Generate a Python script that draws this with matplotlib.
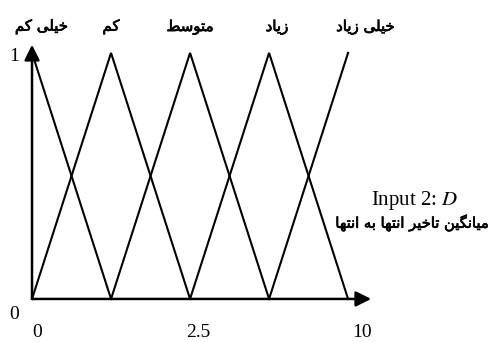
# Triangular membership functions for input 2 (D)
import matplotlib
matplotlib.use('Agg')
import matplotlib.pyplot as plt
import matplotlib.patheffects as pe

# Membership function peaks and labels (left to right)
mf_names = ['خیلی کم', 'کم', 'متوسط', 'زیاد', 'خیلی زیاد']
mf_peaks = [0, 2.5, 5, 7.5, 10]
mf_half_width = 2.5

# Axis tick labels as printed on the figure
xtick_pos = [0, 5, 10]
xtick_labels = ['0', '2.5', '10']
ytick_labels = ['0', '1']

input_title = 'Input 2: $D$'
input_desc = 'میانگین تاخیر انتها به انتها'

# Arabic presentation forms: iso, final, initial, medial
forms = {
    'ا': ('\uFE8D', '\uFE8E'),
    'د': ('\uFEA9', '\uFEAA'),
    'ر': ('\uFEAD', '\uFEAE'),
    'ز': ('\uFEAF', '\uFEB0'),
    'و': ('\uFEED', '\uFEEE'),
    'ب': ('\uFE8F', '\uFE90', '\uFE91', '\uFE92'),
    'ت': ('\uFE95', '\uFE96', '\uFE97', '\uFE98'),
    'خ': ('\uFEA5', '\uFEA6', '\uFEA7', '\uFEA8'),
    'س': ('\uFEB1', '\uFEB2', '\uFEB3', '\uFEB4'),
    'ط': ('\uFEC1', '\uFEC2', '\uFEC3', '\uFEC4'),
    'ل': ('\uFEDD', '\uFEDE', '\uFEDF', '\uFEE0'),
    'م': ('\uFEE1', '\uFEE2', '\uFEE3', '\uFEE4'),
    'ن': ('\uFEE5', '\uFEE6', '\uFEE7', '\uFEE8'),
    'ه': ('\uFEE9', '\uFEEA', '\uFEEB', '\uFEEC'),
    'ی': ('\uFBFC', '\uFBFD', '\uFBFE', '\uFBFF'),
    'ک': ('\uFB8E', '\uFB8F', '\uFB90', '\uFB91'),
    'گ': ('\uFB92', '\uFB93', '\uFB94', '\uFB95'),
}


def shape(text):
    # join letters and put them in visual (left to right) order
    out = []
    for i, ch in enumerate(text):
        if ch not in forms:
            out.append(ch)
            continue
        prev = text[i - 1] if i > 0 else ' '
        nxt = text[i + 1] if i + 1 < len(text) else ' '
        join_prev = prev in forms and len(forms[prev]) == 4
        join_next = len(forms[ch]) == 4 and nxt in forms
        f = forms[ch]
        if join_prev and join_next:
            out.append(f[3])
        elif join_prev:
            out.append(f[1])
        elif join_next:
            out.append(f[2])
        else:
            out.append(f[0])
    return ''.join(out)[::-1]


fig = plt.figure(figsize=(4.96, 3.42), dpi=100)
ax = fig.add_axes([0, 0, 1, 1])
ax.set_xlim(-1.013, 14.68)
ax.set_ylim(-0.175, 1.215)
ax.axis('off')

for p in mf_peaks:
    xs = [p - mf_half_width, p, p + mf_half_width]
    ys = [0, 1, 0]
    # clip to the universe [0, 10]
    pts = [(x, y) for x, y in zip(xs, ys) if 0 <= x <= 10]
    ax.plot([q[0] for q in pts], [q[1] for q in pts], color='black', lw=1.5,
            solid_joinstyle='miter')

arrow = dict(arrowstyle='-|>,head_length=0.4,head_width=0.2', lw=1.8,
             color='black', mutation_scale=23, shrinkA=0, shrinkB=0)
ax.annotate('', xy=(0, 1.033), xytext=(0, 0), arrowprops=arrow)
ax.annotate('', xy=(10.73, 0), xytext=(0, 0), arrowprops=arrow)

thick = [pe.withStroke(linewidth=0.5, foreground='black')]
serif = 'Liberation Serif'
for name, p in zip(mf_names, [0.3, 2.5, 5, 7.75, 10.55]):
    ax.text(p, 1.106, shape(name), ha='center', va='center',
            family='DejaVu Sans', fontsize=10.8, path_effects=thick)

for pos, lab, off in zip(xtick_pos, xtick_labels, [0.16, 0.25, 0.45]):
    ax.text(pos + off, -0.138, lab, ha='center', va='center',
            family=serif, fontsize=14)

ax.text(-0.57, -0.065, ytick_labels[0], ha='center', va='center',
        family=serif, fontsize=14)
ax.text(-0.57, 0.984, ytick_labels[1], ha='center', va='center',
        family=serif, fontsize=14)

plt.rcParams['mathtext.fontset'] = 'stix'
ax.text(12.1, 0.402, input_title, ha='center', va='center',
        family=serif, fontsize=15)
ax.text(12.04, 0.31, shape(input_desc), ha='center', va='center',
        family='DejaVu Sans', fontsize=10.6, path_effects=thick)

fig.savefig('out.png', dpi=100)
